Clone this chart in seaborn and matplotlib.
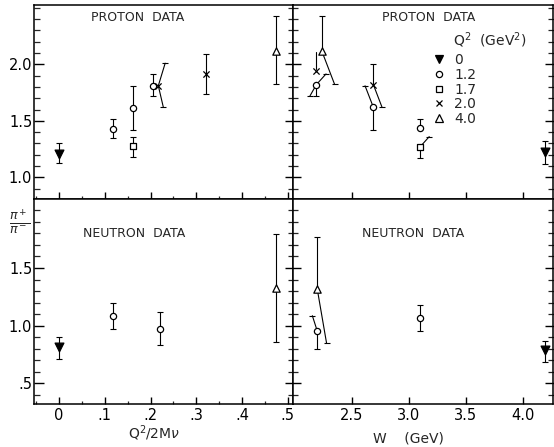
import numpy as np
import pandas as pd
import matplotlib
matplotlib.use("Agg")
import matplotlib.pyplot as plt
import seaborn as sns
from matplotlib.lines import Line2D
from matplotlib.ticker import MultipleLocator, FixedLocator, FixedFormatter

nan = np.nan

# ---------------- data ----------------
# proton data vs Q^2/2M nu
px_x = [0.0, 0.117, 0.162, 0.162, 0.206, 0.217, 0.321, 0.474]
px_r = [1.21, 1.43, 1.61, 1.28, 1.81, 1.81, 1.91, 2.12]
px_lo = [1.125, 1.35, 1.42, 1.18, 1.72, nan, 1.735, 1.83]
px_hi = [1.30, 1.515, 1.81, 1.36, 1.915, nan, 2.09, 2.43]
px_q2 = ["0", "1.2", "1.2", "1.7", "1.2", "2.0", "2.0", "4.0"]
# slanted error lines: x0, y0, x1, y1, cap at end
px_links_x0 = [0.217, 0.217]
px_links_y0 = [1.81, 1.81]
px_links_x1 = [0.232, 0.228]
px_links_y1 = [2.01, 1.62]
px_links_cap = [True, True]

# proton data vs W
pw_w = [2.237, 2.19, 2.19, 2.69, 2.69, 3.10, 3.10, 4.196]
pw_r = [2.12, 1.94, 1.82, 1.82, 1.62, 1.44, 1.27, 1.226]
pw_lo = [nan, nan, 1.72, nan, 1.42, nan, 1.17, 1.115]
pw_hi = [2.43, nan, nan, 2.00, nan, 1.515, nan, 1.32]
pw_q2 = ["4.0", "2.0", "1.2", "2.0", "1.2", "1.2", "1.7", "0"]
pw_links_x0 = [2.237, 2.19, 2.19, 2.19, 2.69, 2.69, 3.10]
pw_links_y0 = [2.12, 1.96, 1.82, 1.82, 1.82, 1.62, 1.27]
pw_links_x1 = [2.35, 2.19, 2.275, 2.134, 2.766, 2.617, 3.18]
pw_links_y1 = [1.823, 2.11, 1.915, 1.72, 1.62, 1.81, 1.36]
pw_links_cap = [True, False, True, True, True, True, True]

# neutron data vs Q^2/2M nu
nx_x = [0.0, 0.119, 0.221, 0.474]
nx_r = [0.818, 1.087, 0.971, 1.324]
nx_lo = [0.709, 0.969, 0.833, 0.861]
nx_hi = [0.905, 1.194, 1.116, 1.792]
nx_q2 = ["0", "1.2", "1.2", "4.0"]

# neutron data vs W
nw_w = [2.198, 2.198, 3.10, 4.196]
nw_r = [1.318, 0.954, 1.064, 0.79]
nw_lo = [nan, 0.798, 0.954, 0.688]
nw_hi = [1.766, nan, 1.177, 0.87]
nw_q2 = ["4.0", "1.2", "1.2", "0"]
nw_links_x0 = [2.198, 2.198]
nw_links_y0 = [1.318, 0.954]
nw_links_x1 = [2.28, 2.155]
nw_links_y1 = [0.847, 1.087]
nw_links_cap = [True, True]

q2_levels = ["0", "1.2", "1.7", "2.0", "4.0"]

# ---------------- style ----------------
sns.set_theme(style="ticks")
plt.rcParams["font.family"] = ["DejaVu Sans"]
plt.rcParams["mathtext.fontset"] = "dejavusans"

MARK = {
    "0":   dict(marker="v", s=40, facecolor="black", edgecolor="black", linewidth=0.9),
    "1.2": dict(marker="o", s=20, facecolor="white", edgecolor="black", linewidth=0.9),
    "1.7": dict(marker="s", s=19, facecolor="white", edgecolor="black", linewidth=0.9),
    "2.0": dict(marker="x", s=20, color="black", linewidth=0.9),
    "4.0": dict(marker="^", s=28, facecolor="white", edgecolor="black", linewidth=0.9),
}
LW = 0.8
CAP = 5

fig = plt.figure(figsize=(5.54, 4.47), dpi=100)
W = 554.0
H = 447.0
xl, xm, xr = 34.3, 293.3, 553.0
yt, ymid, yb = 5.0, 199.0, 404.3
ax_pl = fig.add_axes([xl / W, 1 - ymid / H, (xm - xl) / W, (ymid - yt) / H])
ax_pr = fig.add_axes([xm / W, 1 - ymid / H, (xr - xm) / W, (ymid - yt) / H])
ax_nl = fig.add_axes([xl / W, 1 - yb / H, (xm - xl) / W, (yb - ymid) / H])
ax_nr = fig.add_axes([xm / W, 1 - yb / H, (xr - xm) / W, (yb - ymid) / H])


def draw_panel(ax, x, r, lo, hi, q2, links=None):
    df = pd.DataFrame({"x": x, "r": r, "lo": lo, "hi": hi, "q2": q2})
    for _, row in df.iterrows():
        top = row.hi if np.isfinite(row.hi) else row.r
        bot = row.lo if np.isfinite(row.lo) else row.r
        if top != bot:
            ax.plot([row.x, row.x], [bot, top], color="black", lw=LW, zorder=2)
        for v in (row.lo, row.hi):
            if np.isfinite(v):
                ax.plot([row.x], [v], marker="_", ms=CAP, mew=LW, color="black", zorder=2)
    if links is not None:
        ldf = pd.DataFrame(links)
        for _, s in ldf.iterrows():
            ax.plot([s.x0, s.x1], [s.y0, s.y1], color="black", lw=LW, zorder=2)
            if s.cap:
                ax.plot([s.x1], [s.y1], marker="_", ms=CAP, mew=LW, color="black", zorder=2)
    for k in q2_levels:
        sub = df[df.q2 == k]
        if len(sub):
            sns.scatterplot(data=sub, x="x", y="r", ax=ax, legend=False, zorder=3, **MARK[k])
    ax.set_xlabel("")
    ax.set_ylabel("")


draw_panel(ax_pl, px_x, px_r, px_lo, px_hi, px_q2,
           dict(x0=px_links_x0, y0=px_links_y0, x1=px_links_x1, y1=px_links_y1, cap=px_links_cap))
draw_panel(ax_pr, pw_w, pw_r, pw_lo, pw_hi, pw_q2,
           dict(x0=pw_links_x0, y0=pw_links_y0, x1=pw_links_x1, y1=pw_links_y1, cap=pw_links_cap))
draw_panel(ax_nl, nx_x, nx_r, nx_lo, nx_hi, nx_q2)
draw_panel(ax_nr, nw_w, nw_r, nw_lo, nw_hi, nw_q2,
           dict(x0=nw_links_x0, y0=nw_links_y0, x1=nw_links_x1, y1=nw_links_y1, cap=nw_links_cap))

# limits
for ax in (ax_pl, ax_nl):
    ax.set_xlim(-0.054, 0.512)
for ax in (ax_pr, ax_nr):
    ax.set_xlim(1.988, 4.265)
for ax in (ax_pl, ax_pr):
    ax.set_ylim(0.808, 2.525)
for ax in (ax_nl, ax_nr):
    ax.set_ylim(0.319, 2.098)

for ax in (ax_pl, ax_pr, ax_nl, ax_nr):
    for sp in ax.spines.values():
        sp.set_visible(True)
        sp.set_linewidth(1.1)
        sp.set_color("black")
    ax.tick_params(colors="black", labelsize=10.5, width=1.0, top=False)
    ax.tick_params(which="minor", width=0.9, top=False)

# x ticks: left panels
xq_ticks = [0.0, 0.1, 0.2, 0.3, 0.4, 0.5]
xq_labels = ["0", ".1", ".2", ".3", ".4", ".5"]
for ax in (ax_pl, ax_nl):
    ax.xaxis.set_major_locator(FixedLocator(xq_ticks))
    ax.xaxis.set_major_formatter(FixedFormatter(xq_labels))
    ax.xaxis.set_minor_locator(MultipleLocator(0.05))
    ax.tick_params(axis="x", which="major", direction="in", length=5, pad=2.5, bottom=True, top=False)
    ax.tick_params(axis="x", which="minor", direction="in", length=2.5, bottom=True, top=False)
ax_pl.tick_params(axis="x", labelbottom=False)

# x ticks: right panels
xw_ticks = [2.5, 3.0, 3.5, 4.0]
xw_labels = ["2.5", "3.0", "3.5", "4.0"]
for ax in (ax_pr, ax_nr):
    ax.xaxis.set_major_locator(FixedLocator(xw_ticks))
    ax.xaxis.set_major_formatter(FixedFormatter(xw_labels))
    ax.xaxis.set_minor_locator(FixedLocator([]))
    ax.tick_params(axis="x", which="major", direction="in", length=5, pad=2.5, bottom=True, top=False)
ax_pr.tick_params(axis="x", labelbottom=False)

# y ticks
yp_ticks = [1.0, 1.5, 2.0]
yp_labels = ["1.0", "1.5", "2.0"]
yn_ticks = [0.5, 1.0, 1.5]
yn_labels = [".5", "1.0", "1.5"]
for ax, tks, lbs in ((ax_pl, yp_ticks, yp_labels), (ax_pr, yp_ticks, yp_labels),
                     (ax_nl, yn_ticks, yn_labels), (ax_nr, yn_ticks, yn_labels)):
    ax.yaxis.set_major_locator(FixedLocator(tks))
    ax.yaxis.set_major_formatter(FixedFormatter(lbs))
    ax.yaxis.set_minor_locator(MultipleLocator(0.1))
for ax in (ax_pl, ax_nl):
    ax.tick_params(axis="y", which="major", direction="in", length=7, pad=1.5, left=True, right=False)
    ax.tick_params(axis="y", which="minor", direction="in", length=4, left=True, right=False)
for ax in (ax_pr, ax_nr):
    ax.tick_params(axis="y", which="major", direction="inout", length=12, left=True, right=True,
                   labelleft=False, labelright=False)
    ax.tick_params(axis="y", which="minor", direction="inout", length=6.5, left=True, right=True)

# panel titles
ax_pl.text(0.40, 0.938, "PROTON  DATA", transform=ax_pl.transAxes, ha="center", va="center", fontsize=9)
ax_pr.text(0.5225, 0.938, "PROTON  DATA", transform=ax_pr.transAxes, ha="center", va="center", fontsize=9)
ax_nl.text(0.387, 0.834, "NEUTRON  DATA", transform=ax_nl.transAxes, ha="center", va="center", fontsize=9)
ax_nr.text(0.461, 0.834, "NEUTRON  DATA", transform=ax_nr.transAxes, ha="center", va="center", fontsize=9)

# legend
ax_pr.text(0.615, 0.82, "Q$^2$  (GeV$^2$)", transform=ax_pr.transAxes, ha="left", va="center", fontsize=10)
handles = []
for k in q2_levels:
    m = MARK[k]
    fc = m.get("facecolor", "black")
    handles.append(Line2D([], [], linestyle="none", marker=m["marker"],
                          markersize=np.sqrt(m["s"]), markerfacecolor=fc,
                          markeredgecolor="black", markeredgewidth=0.9))
ax_pr.legend(handles, q2_levels, loc="upper left", bbox_to_anchor=(0.535, 0.752),
             frameon=False, fontsize=10, handlelength=1.0, handletextpad=0.6,
             labelspacing=0.05, borderpad=0, borderaxespad=0)

# axis labels
fig.text(154 / W, 1 - 433 / H, "Q$^2$/2M$\\nu$", ha="center", va="center", fontsize=10)
fig.text(408 / W, 1 - 438 / H, "W    (GeV)", ha="center", va="center", fontsize=10)
fig.text(20 / W, 1 - 222 / H, r"$\frac{\pi^+}{\pi^-}$", ha="center", va="center", fontsize=13)

fig.savefig("out.png", dpi=100)
